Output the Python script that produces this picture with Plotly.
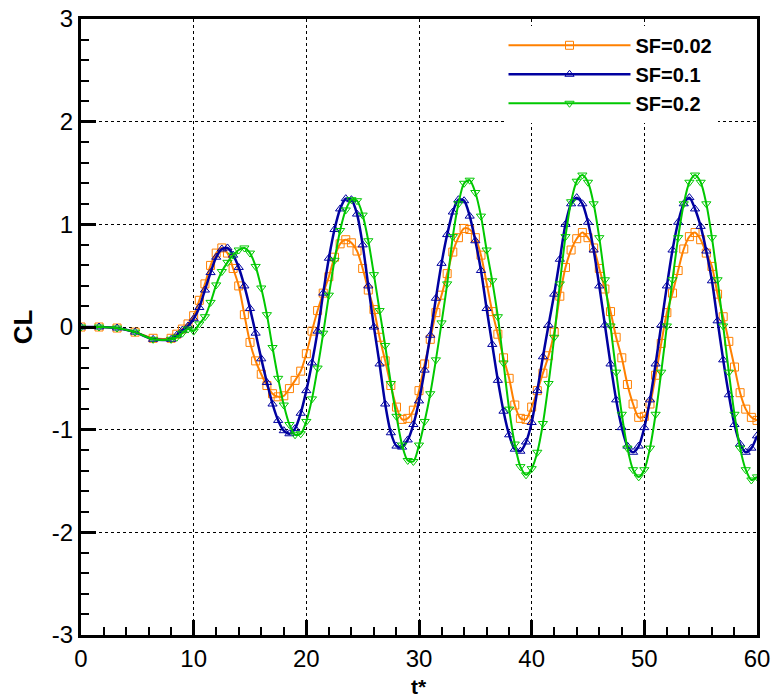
import plotly.graph_objects as go

t = [0, 1.6, 3.2, 4.8, 6.4, 8.0, 8.5, 9.0, 9.5, 10.0, 10.5, 11.0, 11.5, 12.0, 12.5, 13.0, 13.5, 14.0, 14.5,
     15.0, 15.5, 16.0, 16.5, 17.0, 17.5, 18.0, 18.5, 19.0, 19.5, 20.0, 20.5, 21.0, 21.5, 22.0, 22.5, 23.0,
     23.5, 24.0, 24.5, 25.0, 25.5, 26.0, 26.5, 27.0, 27.5, 28.0, 28.5, 29.0, 29.5, 30.0, 30.5, 31.0, 31.5,
     32.0, 32.5, 33.0, 33.5, 34.0, 34.5, 35.0, 35.5, 36.0, 36.5, 37.0, 37.5, 38.0, 38.5, 39.0, 39.5, 40.0,
     40.5, 41.0, 41.5, 42.0, 42.5, 43.0, 43.5, 44.0, 44.5, 45.0, 45.5, 46.0, 46.5, 47.0, 47.5, 48.0, 48.5,
     49.0, 49.5, 50.0, 50.5, 51.0, 51.5, 52.0, 52.5, 53.0, 53.5, 54.0, 54.5, 55.0, 55.5, 56.0, 56.5, 57.0,
     57.5, 58.0, 58.5, 59.0, 59.5, 60.0]

cl_sf002 = [0.0, 0.0, -0.01, -0.05, -0.11, -0.11, -0.07, -0.02, 0.03, 0.11, 0.26, 0.42, 0.60, 0.72, 0.77,
            0.72, 0.57, 0.40, 0.12, -0.15, -0.33, -0.46, -0.57, -0.65, -0.68, -0.67, -0.60, -0.52, -0.43,
            -0.26, -0.04, 0.16, 0.33, 0.49, 0.68, 0.81, 0.85, 0.82, 0.74, 0.57, 0.36, 0.17, -0.10, -0.33,
            -0.57, -0.78, -0.90, -0.89, -0.81, -0.62, -0.36, -0.12, 0.14, 0.31, 0.52, 0.73, 0.87, 0.96, 0.95,
            0.87, 0.70, 0.43, 0.15, -0.07, -0.30, -0.50, -0.76, -0.89, -0.90, -0.78, -0.62, -0.45, -0.28,
            -0.05, 0.30, 0.58, 0.75, 0.86, 0.92, 0.87, 0.77, 0.57, 0.37, 0.15, -0.10, -0.30, -0.56, -0.75,
            -0.88, -0.87, -0.75, -0.47, -0.16, 0.14, 0.33, 0.55, 0.76, 0.88, 0.92, 0.85, 0.72, 0.59, 0.32,
            0.10, -0.14, -0.39, -0.64, -0.80, -0.88, -0.91]

cl_sf01 = [0.0, 0.0, -0.01, -0.05, -0.12, -0.12, -0.08, -0.03, 0.01, 0.08, 0.19, 0.36, 0.53, 0.68, 0.76,
           0.77, 0.70, 0.58, 0.40, 0.18, -0.06, -0.31, -0.54, -0.75, -0.91, -1.01, -1.04, -0.99, -0.84,
           -0.62, -0.35, -0.04, 0.33, 0.67, 0.95, 1.15, 1.25, 1.24, 1.10, 0.80, 0.40, 0.0, -0.36, -0.75,
           -1.03, -1.16, -1.17, -1.10, -0.95, -0.72, -0.42, -0.08, 0.28, 0.62, 0.90, 1.12, 1.24, 1.23, 1.08,
           0.84, 0.55, 0.18, -0.17, -0.52, -0.82, -1.05, -1.19, -1.21, -1.12, -0.93, -0.62, -0.29, 0.02,
           0.32, 0.66, 1.00, 1.20, 1.26, 1.20, 1.02, 0.75, 0.40, 0.02, -0.36, -0.71, -0.98, -1.16, -1.22,
           -1.16, -0.98, -0.71, -0.36, 0.02, 0.40, 0.75, 1.02, 1.20, 1.26, 1.15, 0.98, 0.74, 0.45, 0.06,
           -0.32, -0.66, -0.95, -1.14, -1.22, -1.18, -1.06]

cl_sf02 = [0.0, 0.0, -0.01, -0.05, -0.12, -0.12, -0.10, -0.06, -0.02, -0.04, 0.03, 0.10, 0.24, 0.41, 0.54,
           0.63, 0.70, 0.75, 0.77, 0.72, 0.59, 0.38, 0.12, -0.20, -0.50, -0.76, -0.95, -1.05, -1.04, -0.92,
           -0.70, -0.40, -0.06, 0.31, 0.65, 0.94, 1.14, 1.24, 1.23, 1.09, 0.84, 0.51, 0.16, -0.18, -0.55,
           -0.87, -1.15, -1.30, -1.31, -1.15, -0.92, -0.65, -0.32, 0.04, 0.42, 0.88, 1.20, 1.40, 1.43, 1.31,
           1.08, 0.75, 0.45, 0.10, -0.35, -0.80, -1.14, -1.36, -1.44, -1.38, -1.22, -0.94, -0.55, -0.10,
           0.42, 0.88, 1.22, 1.42, 1.48, 1.41, 1.20, 0.87, 0.46, 0.01, -0.44, -0.85, -1.18, -1.39, -1.46,
           -1.39, -1.18, -0.85, -0.44, 0.01, 0.46, 0.87, 1.20, 1.41, 1.48, 1.41, 1.20, 0.87, 0.46, 0.01,
           -0.44, -0.85, -1.18, -1.39, -1.49, -1.46]

series_names = ["SF=0.02", "SF=0.1", "SF=0.2"]
x_ticks = [0, 10, 20, 30, 40, 50, 60]
y_ticks = [-3, -2, -1, 0, 1, 2, 3]

FONT = "Liberation Sans, Arial, sans-serif"

styles = [
    dict(color="#FF8000", symbol="square-open", width=2),
    dict(color="#0000A0", symbol="triangle-up-open", width=2.5),
    dict(color="#00C800", symbol="triangle-down-open", width=2),
]

fig = go.Figure()
for name, ys, st in zip(series_names, [cl_sf002, cl_sf01, cl_sf02], styles):
    fig.add_trace(go.Scatter(
        x=t, y=ys, name=name, mode="lines+markers",
        line=dict(color=st["color"], width=st["width"], shape="spline", smoothing=0.8),
        marker=dict(symbol=st["symbol"], size=8, color=st["color"], line=dict(width=1, color=st["color"])),
    ))

axis_common = dict(
    ticks="inside", ticklen=15, tickwidth=3, tickcolor="black",
    showline=True, linewidth=3, linecolor="black", mirror=True,
    showgrid=True, gridcolor="black", griddash="dot", gridwidth=1,
    zeroline=False, automargin=False,
    tickfont=dict(family=FONT, size=24, color="black"),
)

fig.update_xaxes(
    range=[0, 60], tickvals=x_ticks, ticktext=[str(v) for v in x_ticks],
    minor=dict(dtick=2, tick0=0, ticks="inside", ticklen=8, tickwidth=1.5, tickcolor="black", showgrid=False),
    **axis_common,
)
fig.update_yaxes(
    range=[-3, 3], tickvals=y_ticks, ticktext=[str(v) for v in y_ticks],
    minor=dict(dtick=0.2, tick0=0, ticks="inside", ticklen=8, tickwidth=1.5, tickcolor="black", showgrid=False),
    title=dict(text="CL", font=dict(family=FONT, size=26, color="black", weight="bold"), standoff=12),
    **axis_common,
)

fig.add_annotation(
    text="<b>t*</b>", xref="paper", yref="paper", x=0.5, y=-0.104,
    xanchor="center", yanchor="bottom", showarrow=False, borderpad=0,
    font=dict(family=FONT, size=21, color="black"),
)

fig.update_layout(
    width=775, height=700,
    margin=dict(l=81, r=18, t=19, b=65),
    plot_bgcolor="white", paper_bgcolor="white",
    showlegend=True,
    legend=dict(
        x=0.625, y=0.989, xanchor="left", yanchor="top",
        bgcolor="white", borderwidth=0,
        itemwidth=122,
        font=dict(family=FONT, size=20, color="black", weight="bold"),
        tracegroupgap=0,
    ),
)

fig.write_html(
    "out.html",
    config={"displayModeBar": False},
    post_script="document.body.style.margin='0';document.body.style.overflow='hidden';",
)
